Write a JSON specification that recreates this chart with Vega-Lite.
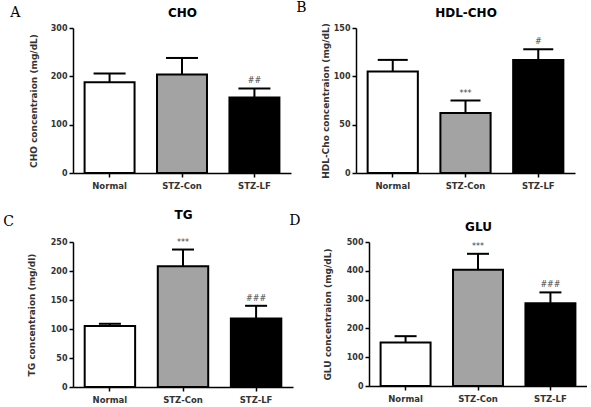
{
  "$schema": "https://vega.github.io/schema/vega-lite/v6.json",
  "padding": {"left": 3, "top": 1, "right": 0, "bottom": 0},
  "background": "white",
  "datasets": {
    "lab": [
      {"panel": "A", "group": "Normal", "mean": 188, "upper": 206, "sig": ""},
      {"panel": "A", "group": "STZ-Con", "mean": 204, "upper": 238, "sig": ""},
      {"panel": "A", "group": "STZ-LF", "mean": 156, "upper": 175, "sig": "##"},
      {"panel": "B", "group": "Normal", "mean": 105, "upper": 117, "sig": ""},
      {"panel": "B", "group": "STZ-Con", "mean": 62, "upper": 75, "sig": "***"},
      {"panel": "B", "group": "STZ-LF", "mean": 117, "upper": 128, "sig": "#"},
      {"panel": "C", "group": "Normal", "mean": 105, "upper": 109, "sig": ""},
      {"panel": "C", "group": "STZ-Con", "mean": 208, "upper": 237, "sig": "***"},
      {"panel": "C", "group": "STZ-LF", "mean": 118, "upper": 140, "sig": "###"},
      {"panel": "D", "group": "Normal", "mean": 151, "upper": 173, "sig": ""},
      {"panel": "D", "group": "STZ-Con", "mean": 404, "upper": 459, "sig": "***"},
      {"panel": "D", "group": "STZ-LF", "mean": 287, "upper": 325, "sig": "###"}
    ]
  },
  "data": {"name": "lab"},
  "spacing": 18,
  "vconcat": [
    {
      "spacing": 5,
      "hconcat": [
        {
          "width": 218, "height": 145,
          "title": {"text": "A", "dx": -19, "dy": 18},
          "transform": [{"filter": "datum.panel === 'A'"}],
          "resolve": {"axis": {"x": "independent", "y": "independent"}},
          "layer": [
            {"mark": {"type": "bar", "stroke": "black", "strokeWidth": 2},
             "encoding": {
               "x": {"field": "group", "type": "nominal", "sort": ["Normal", "STZ-Con", "STZ-LF"], "scale": {"paddingInner": 0.31, "paddingOuter": 0.16}, "axis": {"title": null}},
               "y": {"field": "mean", "type": "quantitative", "scale": {"domain": [0, 300], "nice": false}, "axis": {"values": [0, 100, 200, 300], "title": "CHO concentraion (mg/dL)", "titlePadding": 12}},
               "fill": {"field": "group", "type": "nominal", "scale": {"domain": ["Normal", "STZ-Con", "STZ-LF"], "range": ["#ffffff", "#a3a3a3", "#000000"]}, "legend": null}}},
            {"mark": {"type": "rule", "strokeWidth": 2, "color": "black"},
             "encoding": {"x": {"field": "group", "type": "nominal", "sort": ["Normal", "STZ-Con", "STZ-LF"], "axis": null}, "y": {"field": "mean", "type": "quantitative", "axis": null}, "y2": {"field": "upper"}}},
            {"mark": {"type": "tick", "thickness": 2, "size": 32, "color": "black", "orient": "horizontal", "opacity": 1},
             "encoding": {"x": {"field": "group", "type": "nominal", "sort": ["Normal", "STZ-Con", "STZ-LF"], "axis": null}, "y": {"field": "upper", "type": "quantitative", "axis": null}}},
            {"mark": {"type": "text", "baseline": "bottom", "dy": -3, "fontSize": 8, "color": "#444", "font": "DejaVu Sans"},
             "encoding": {"x": {"field": "group", "type": "nominal", "sort": ["Normal", "STZ-Con", "STZ-LF"], "axis": {"orient": "top", "labels": false, "ticks": false, "domain": false, "title": "CHO", "titlePadding": 9, "titleFontSize": 12, "titleFontWeight": "bold", "titleColor": "black"}}, "y": {"field": "upper", "type": "quantitative", "axis": null}, "text": {"field": "sig"}}}
          ]
        },
        {
          "width": 219, "height": 145,
          "title": {"text": "B", "dx": -25, "dy": 13},
          "transform": [{"filter": "datum.panel === 'B'"}],
          "resolve": {"axis": {"x": "independent", "y": "independent"}},
          "layer": [
            {"mark": {"type": "bar", "stroke": "black", "strokeWidth": 2},
             "encoding": {
               "x": {"field": "group", "type": "nominal", "sort": ["Normal", "STZ-Con", "STZ-LF"], "scale": {"paddingInner": 0.31, "paddingOuter": 0.16}, "axis": {"title": null}},
               "y": {"field": "mean", "type": "quantitative", "scale": {"domain": [0, 150], "nice": false}, "axis": {"values": [0, 50, 100, 150], "title": "HDL-Cho concentraion (mg/dL)", "titlePadding": 3}},
               "fill": {"field": "group", "type": "nominal", "scale": {"domain": ["Normal", "STZ-Con", "STZ-LF"], "range": ["#ffffff", "#a3a3a3", "#000000"]}, "legend": null}}},
            {"mark": {"type": "rule", "strokeWidth": 2, "color": "black"},
             "encoding": {"x": {"field": "group", "type": "nominal", "sort": ["Normal", "STZ-Con", "STZ-LF"], "axis": null}, "y": {"field": "mean", "type": "quantitative", "axis": null}, "y2": {"field": "upper"}}},
            {"mark": {"type": "tick", "thickness": 2, "size": 30, "color": "black", "orient": "horizontal", "opacity": 1},
             "encoding": {"x": {"field": "group", "type": "nominal", "sort": ["Normal", "STZ-Con", "STZ-LF"], "axis": null}, "y": {"field": "upper", "type": "quantitative", "axis": null}}},
            {"mark": {"type": "text", "baseline": "bottom", "dy": -3, "fontSize": 8, "color": "#444", "font": "DejaVu Sans"},
             "encoding": {"x": {"field": "group", "type": "nominal", "sort": ["Normal", "STZ-Con", "STZ-LF"], "axis": {"orient": "top", "labels": false, "ticks": false, "domain": false, "title": "HDL-CHO", "titlePadding": 9, "titleFontSize": 12, "titleFontWeight": "bold", "titleColor": "black"}}, "y": {"field": "upper", "type": "quantitative", "axis": null}, "text": {"field": "sig"}}}
          ]
        }
      ]
    },
    {
      "spacing": -4,
      "hconcat": [
        {
          "width": 220, "height": 145,
          "title": {"text": "C", "dx": -24, "dy": 25},
          "transform": [{"filter": "datum.panel === 'C'"}],
          "resolve": {"axis": {"x": "independent", "y": "independent"}},
          "layer": [
            {"mark": {"type": "bar", "stroke": "black", "strokeWidth": 2},
             "encoding": {
               "x": {"field": "group", "type": "nominal", "sort": ["Normal", "STZ-Con", "STZ-LF"], "scale": {"paddingInner": 0.31, "paddingOuter": 0.16}, "axis": {"title": null}},
               "y": {"field": "mean", "type": "quantitative", "scale": {"domain": [0, 250], "nice": false}, "axis": {"values": [0, 50, 100, 150, 200, 250], "title": "TG concentraion (mg/dl)", "titlePadding": 14}},
               "fill": {"field": "group", "type": "nominal", "scale": {"domain": ["Normal", "STZ-Con", "STZ-LF"], "range": ["#ffffff", "#a3a3a3", "#000000"]}, "legend": null}}},
            {"mark": {"type": "rule", "strokeWidth": 2, "color": "black"},
             "encoding": {"x": {"field": "group", "type": "nominal", "sort": ["Normal", "STZ-Con", "STZ-LF"], "axis": null}, "y": {"field": "mean", "type": "quantitative", "axis": null}, "y2": {"field": "upper"}}},
            {"mark": {"type": "tick", "thickness": 2, "size": 22, "color": "black", "orient": "horizontal", "opacity": 1},
             "encoding": {"x": {"field": "group", "type": "nominal", "sort": ["Normal", "STZ-Con", "STZ-LF"], "axis": null}, "y": {"field": "upper", "type": "quantitative", "axis": null}}},
            {"mark": {"type": "text", "baseline": "bottom", "dy": -3, "fontSize": 8, "color": "#444", "font": "DejaVu Sans"},
             "encoding": {"x": {"field": "group", "type": "nominal", "sort": ["Normal", "STZ-Con", "STZ-LF"], "axis": {"orient": "top", "labels": false, "ticks": false, "domain": false, "title": "TG", "titlePadding": 21, "titleFontSize": 12, "titleFontWeight": "bold", "titleColor": "black"}}, "y": {"field": "upper", "type": "quantitative", "axis": null}, "text": {"field": "sig"}}}
          ]
        },
        {
          "width": 218, "height": 144,
          "title": {"text": "D", "dx": -34, "dy": 12},
          "transform": [{"filter": "datum.panel === 'D'"}],
          "resolve": {"axis": {"x": "independent", "y": "independent"}},
          "layer": [
            {"mark": {"type": "bar", "stroke": "black", "strokeWidth": 2},
             "encoding": {
               "x": {"field": "group", "type": "nominal", "sort": ["Normal", "STZ-Con", "STZ-LF"], "scale": {"paddingInner": 0.31, "paddingOuter": 0.16}, "axis": {"title": null}},
               "y": {"field": "mean", "type": "quantitative", "scale": {"domain": [0, 500], "nice": false}, "axis": {"values": [0, 100, 200, 300, 400, 500], "title": "GLU concentraion (mg/dL)", "titlePadding": 14}},
               "fill": {"field": "group", "type": "nominal", "scale": {"domain": ["Normal", "STZ-Con", "STZ-LF"], "range": ["#ffffff", "#a3a3a3", "#000000"]}, "legend": null}}},
            {"mark": {"type": "rule", "strokeWidth": 2, "color": "black"},
             "encoding": {"x": {"field": "group", "type": "nominal", "sort": ["Normal", "STZ-Con", "STZ-LF"], "axis": null}, "y": {"field": "mean", "type": "quantitative", "axis": null}, "y2": {"field": "upper"}}},
            {"mark": {"type": "tick", "thickness": 2, "size": 22, "color": "black", "orient": "horizontal", "opacity": 1},
             "encoding": {"x": {"field": "group", "type": "nominal", "sort": ["Normal", "STZ-Con", "STZ-LF"], "axis": null}, "y": {"field": "upper", "type": "quantitative", "axis": null}}},
            {"mark": {"type": "text", "baseline": "bottom", "dy": -3, "fontSize": 8, "color": "#444", "font": "DejaVu Sans"},
             "encoding": {"x": {"field": "group", "type": "nominal", "sort": ["Normal", "STZ-Con", "STZ-LF"], "axis": {"orient": "top", "labels": false, "ticks": false, "domain": false, "title": "GLU", "titlePadding": 9, "titleFontSize": 12, "titleFontWeight": "bold", "titleColor": "black"}}, "y": {"field": "upper", "type": "quantitative", "axis": null}, "text": {"field": "sig"}}}
          ]
        }
      ]
    }
  ],
  "config": {
    "view": {"stroke": null},
    "title": {"font": "DejaVu Serif", "fontSize": 14, "fontWeight": "normal", "color": "black", "anchor": "start", "frame": "bounds", "offset": 0},
    "axis": {
      "grid": false,
      "domainColor": "black", "domainWidth": 1.5,
      "tickColor": "black", "tickWidth": 1.5, "tickSize": 4,
      "labelFont": "DejaVu Sans", "labelFontWeight": "bold", "labelColor": "#333", "labelFontSize": 8, "labelPadding": 2,
      "titleFont": "DejaVu Sans", "titleFontWeight": "bold", "titleColor": "#333", "titleFontSize": 9
    },
    "axisX": {"labelAngle": 0, "labelFontSize": 8.5, "labelPadding": 4}
  }
}
